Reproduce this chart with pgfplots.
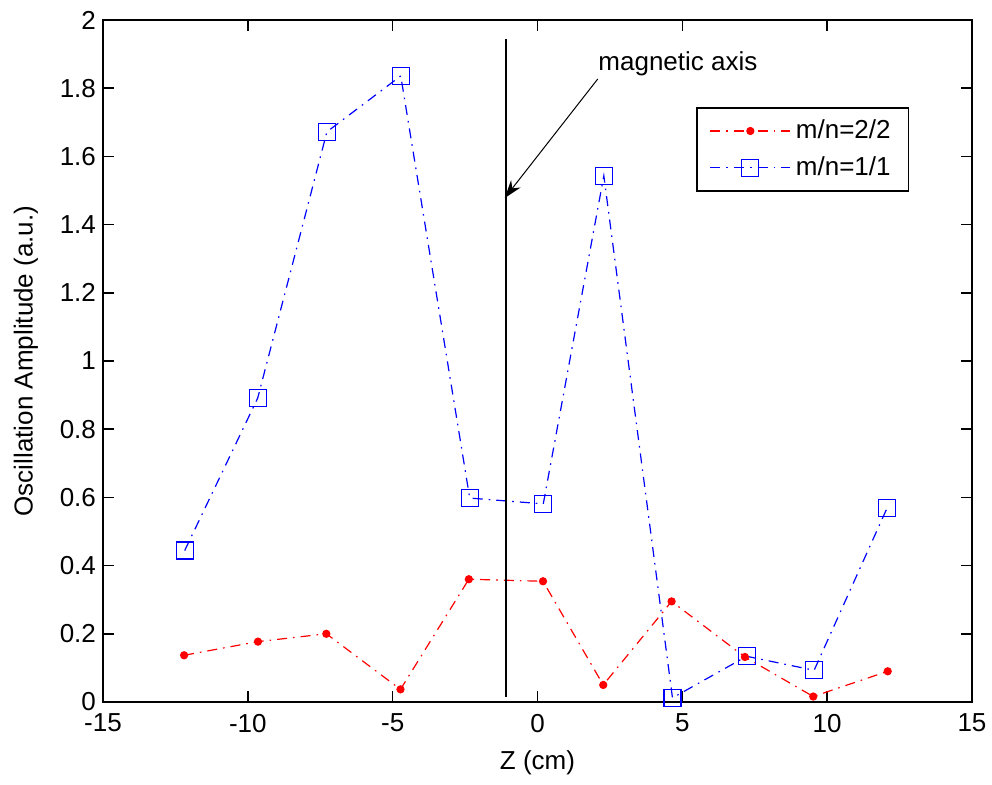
\documentclass[border=0pt]{standalone}
\usepackage{pgfplots}
\pgfplotsset{compat=1.18}
\usepackage{fontspec}
\setmainfont{Liberation Sans}
\usetikzlibrary{arrows.meta}
\begin{document}
\begin{tikzpicture}[font=\fontsize{13}{15.6}\selectfont]
\begin{axis}[
  at={(0,0)}, anchor=south west,
  width=434.5pt, height=341pt, scale only axis,
  xmin=-15, xmax=15, ymin=0, ymax=2,
  xtick={-15,-10,-5,0,5,10,15},
  ytick={0,0.2,0.4,0.6,0.8,1,1.2,1.4,1.6,1.8,2},
  /pgf/number format/assume math mode=true,
  tick align=inside, major tick length=5.3pt,
  tick style={black, line width=0.8pt},
  axis line style={black, line width=0.8pt},
  xticklabel style={yshift=-2.5pt},
  xlabel={Z (cm)}, ylabel={Oscillation Amplitude (a.u.)},
  xlabel style={at={(axis description cs:0.5,-0.0894)}, anchor=center},
  ylabel style={at={(axis description cs:-0.0886,0.5)}, anchor=center},
  clip=false,
  legend cell align=left,
  legend style={at={(0.928,0.872)}, anchor=north east, draw=black, line width=0.8pt,
    inner xsep=6.5pt, inner ysep=3.5pt, row sep=2.5pt,
    nodes={inner sep=2.5pt}},
  legend image code/.code={\draw[mark repeat=2,mark phase=2,#1] plot coordinates {(0pt,0pt) (20pt,0pt) (40pt,0pt)};},
  every axis plot/.append style={line width=0.6pt, dash pattern=on 5pt off 3pt on 0.8pt off 3pt},
]
\addplot[color=red, mark=*, mark size=1.75pt, mark options={solid, fill=red, draw=red}] coordinates {
 (-12.2,0.137) (-9.65,0.177) (-7.29,0.2) (-4.73,0.037) (-2.37,0.36) (0.19,0.354)
 (2.27,0.05) (4.63,0.295) (7.16,0.132) (9.52,0.016) (12.09,0.09)};
\addlegendentry{m/n=2/2}
\addplot[color=blue, mark=square, mark size=4.25pt, mark options={solid, fill=none, draw=blue}] coordinates {
 (-12.18,0.444) (-9.66,0.891) (-7.27,1.672) (-4.72,1.836) (-2.34,0.598) (0.2,0.581)
 (2.29,1.543) (4.66,0.012) (7.22,0.134) (9.55,0.093) (12.07,0.569)};
\addlegendentry{m/n=1/1}
\addplot[forget plot, black, solid, line width=0.9pt] coordinates {(-1.1,0.015) (-1.1,1.945)};
\draw[black, line width=0.5pt, -{Stealth[length=9pt,width=6pt]}] (axis cs:2.08,1.827) -- (axis cs:-1.13,1.478);
\node[anchor=base west, inner sep=0pt] at (axis cs:2.09,1.853) {magnetic axis};
\end{axis}
\pgfresetboundingbox
\path (-51.5pt,-41.5pt) rectangle (444.5pt,351pt);
\end{tikzpicture}
\end{document}
